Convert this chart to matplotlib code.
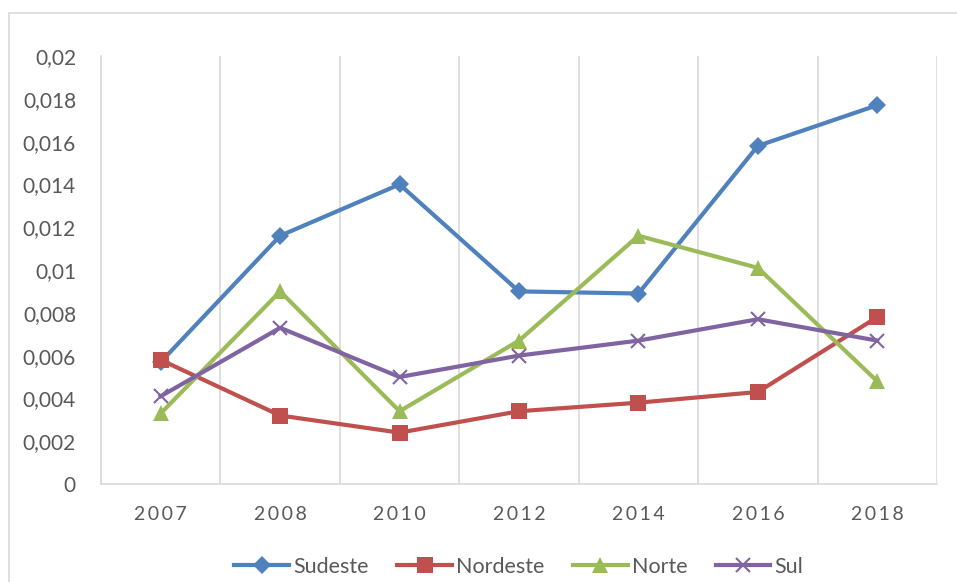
import matplotlib.pyplot as plt
from matplotlib.patches import Rectangle
from matplotlib.ticker import FuncFormatter

plt.rcParams['font.family'] = ['Lato', 'DejaVu Sans']

anos = ['2007', '2008', '2010', '2012', '2014', '2016', '2018']
sudeste = [0.0057, 0.0116, 0.0140, 0.0090, 0.0089, 0.0158, 0.0177]
nordeste = [0.0058, 0.0032, 0.0024, 0.0034, 0.0038, 0.0043, 0.0078]
norte = [0.0033, 0.0090, 0.0034, 0.0067, 0.0116, 0.0101, 0.0048]
sul = [0.0041, 0.0073, 0.0050, 0.0060, 0.0067, 0.0077, 0.0067]

W, H = 957, 582
fig = plt.figure(figsize=(W / 100, H / 100), dpi=100)
fig.patches.append(Rectangle((9 / W, -0.1), 1.2, (H - 13) / H + 0.1, transform=fig.transFigure,
                             fill=False, edgecolor='#d9d9d9', linewidth=1.2))

ax = fig.add_axes([101 / W, (H - 484) / H, (937 - 101) / W, (484 - 56) / H])
x = list(range(len(anos)))

series = [
    ('Sudeste', sudeste, '#4f81bd', 'D', 9.5),
    ('Nordeste', nordeste, '#c0504d', 's', 11.5),
    ('Norte', norte, '#9bbb59', '^', 12),
    ('Sul', sul, '#8064a2', 'x', 10.5),
]
for nome, vals, cor, mk, ms in series:
    ax.plot(x, vals, color=cor, linewidth=3.0, marker=mk, markersize=ms,
            markeredgewidth=1.5 if mk == 'x' else 0, markeredgecolor=cor, label=nome)

ax.set_xlim(-0.5, len(anos) - 0.5)
ax.set_ylim(0, 0.02)
ax.set_yticks([i * 0.002 for i in range(11)])
ax.yaxis.set_major_formatter(FuncFormatter(lambda v, p: '0' if v == 0 else ('%g' % round(v, 3)).replace('.', ',')))
ax.set_xticks(x)
ax.set_xticklabels(['\u2009'.join(a) for a in anos])
ax.set_xticks([i - 0.5 for i in range(len(anos) + 1)], minor=True)
ax.grid(True, which='minor', axis='x', color='#d9d9d9', linewidth=1.2)
ax.tick_params(which='both', length=0)
ax.tick_params(axis='y', labelsize=15, colors='#595959', pad=18)
ax.tick_params(axis='x', labelsize=14, colors='#595959', pad=16)

for s in ['top', 'right']:
    ax.spines[s].set_visible(False)
for s in ['left', 'bottom']:
    ax.spines[s].set_color('#d9d9d9')
    ax.spines[s].set_linewidth(1.2)

leg = ax.legend(loc='center', bbox_to_anchor=(0.5, -0.193), ncol=4, frameon=False,
                fontsize=15.5, handlelength=2.55, handletextpad=0.2, columnspacing=1.3)
for t in leg.get_texts():
    t.set_color('#595959')

fig.savefig('out.png', dpi=100)
